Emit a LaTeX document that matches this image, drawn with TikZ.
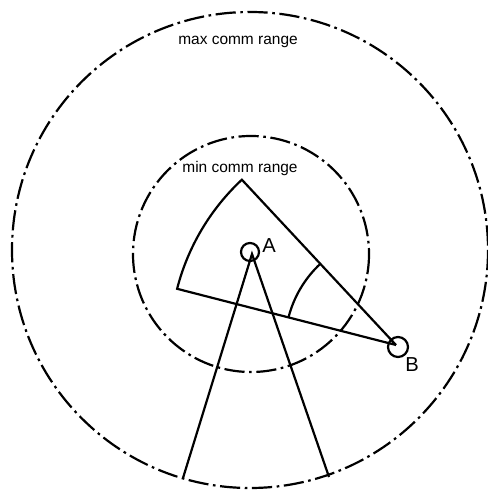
\documentclass[tikz,border=0pt]{standalone}
\usepackage{fontspec}
\setmainfont{Liberation Sans}
\begin{document}
\begin{tikzpicture}[x=0.02cm,y=-0.02cm,
  commrange/.style={line width=1.25pt, dash pattern=on 11.5pt off 2.6pt on 1.5pt off 2.6pt},
  solidline/.style={line width=1.25pt},
  nodecirc/.style={circle, draw, line width=1.25pt, inner sep=0pt},
  smalllabel/.style={font=\fontsize{8.8}{10}\selectfont},
  biglabel/.style={font=\fontsize{11.5}{13}\selectfont}]
\useasboundingbox (0,0) rectangle (487,492);
\coordinate (O) at (250,250);
\coordinate (I) at (251,254);
\draw[commrange] (O) circle[radius=238];
\draw[commrange] (I) circle[radius=118];
\node[smalllabel] (maxlab) at (238,42) {max comm range};
\node[smalllabel] (minlab) at (240,169) {min comm range};
\node[nodecirc, minimum size=18*0.02cm] (A) at (250,252) {};
\node[nodecirc, minimum size=20*0.02cm] (B) at (398,347) {};
\node[biglabel] (Alab) at (269,246) {A};
\node[biglabel] (Blab) at (412,365) {B};
\coordinate (apex) at (252,254);
\coordinate (L) at (183,478);
\coordinate (R) at (329,477);
\draw[solidline] (L) -- (apex) -- (R);
\coordinate (Bc) at (396,345);
\draw[solidline, line join=miter] (Bc) -- ++(194.4:226) arc[start angle=194.4, end angle=227, radius=226] -- (Bc);
\draw[solidline] ([shift={(194.4:111)}]Bc) arc[start angle=194.4, end angle=227, radius=111];
\end{tikzpicture}
\end{document}
